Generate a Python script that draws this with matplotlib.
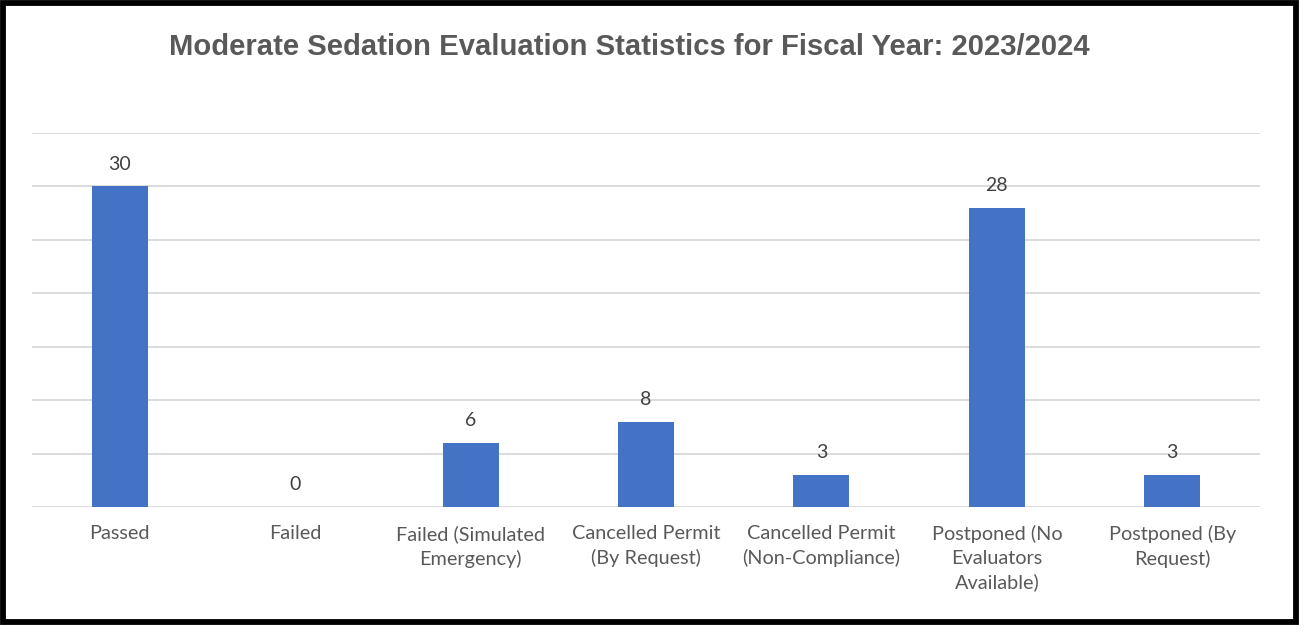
import matplotlib

matplotlib.use("Agg")
import matplotlib.pyplot as plt
from matplotlib.patches import Rectangle

categories = [
    "Passed",
    "Failed",
    "Failed (Simulated\nEmergency)",
    "Cancelled Permit\n(By Request)",
    "Cancelled Permit\n(Non-Compliance)",
    "Postponed (No\nEvaluators\nAvailable)",
    "Postponed (By\nRequest)",
]
counts = [30, 0, 6, 8, 3, 28, 3]
grid_levels = [0, 5, 10, 15, 20, 25, 30, 35]

BAR = "#4472C4"
TEXT = "#595959"
LABEL = "#404040"
BODY_FONT = ["Lato", "DejaVu Sans"]

fig = plt.figure(figsize=(12.99, 6.25), dpi=100)
ax = fig.add_axes([32 / 1299, 1 - 507 / 625, 1228 / 1299, 374 / 625])

x = list(range(len(categories)))
bars = ax.bar(x, counts, width=0.32, color=BAR, zorder=3)
ax.set_xlim(-0.5, len(categories) - 0.5)
ax.set_ylim(0, 35)

for level in grid_levels:
    ax.axhline(level, color="#d9d9d9", linewidth=1.3, zorder=1)

for rect, v in zip(bars, counts):
    ax.annotate(str(v), (rect.get_x() + rect.get_width() / 2, v),
                xytext=(0, 10), textcoords="offset points",
                ha="center", va="bottom", fontsize=14,
                color=LABEL, family=BODY_FONT)

ax.set_xticks(x)
ax.set_xticklabels(categories, fontsize=14.3, color=TEXT,
                   family=BODY_FONT, linespacing=1.46, va="top")
ax.tick_params(axis="x", length=0, pad=13)
ax.set_yticks([])
for s in ax.spines.values():
    s.set_visible(False)

fig.text(629 / 1299, 1 - 47 / 625,
         "Moderate Sedation Evaluation Statistics for Fiscal Year: 2023/2024",
         ha="center", va="center", fontsize=21.1, fontweight="bold",
         color=TEXT, family=["Liberation Sans", "DejaVu Sans"])

# black frame round the whole chart
fig.patches.append(Rectangle((3 / 1299, 3 / 625), 1293 / 1299, 619 / 625,
                             transform=fig.transFigure, fill=False,
                             edgecolor="black", linewidth=4.2, zorder=10))

fig.savefig("out.png", dpi=100, facecolor="white")
